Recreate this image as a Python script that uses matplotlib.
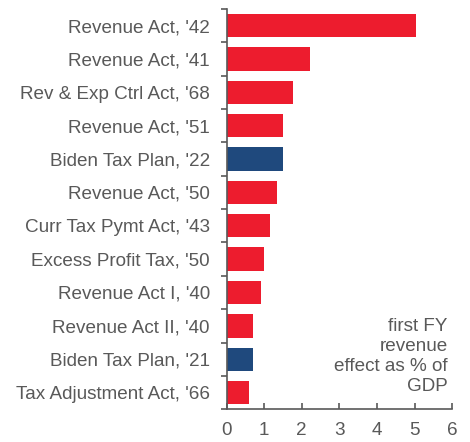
import numpy as np
import matplotlib
matplotlib.use("Agg")
import matplotlib.pyplot as plt

# Tax bills, largest first-year effect at the top
acts = ["Revenue Act, '42", "Revenue Act, '41", "Rev & Exp Ctrl Act, '68",
        "Revenue Act, '51", "Biden Tax Plan, '22", "Revenue Act, '50",
        "Curr Tax Pymt Act, '43", "Excess Profit Tax, '50", "Revenue Act I, '40",
        "Revenue Act II, '40", "Biden Tax Plan, '21", "Tax Adjustment Act, '66"]
pct_gdp = [5.03, 2.22, 1.76, 1.51, 1.51, 1.34, 1.16, 0.99, 0.91, 0.70, 0.71, 0.60]
is_biden = [False, False, False, False, True, False, False, False, False, False, True, False]

red = "#ED1C2E"
blue = "#1F497D"
grey = "#595959"
fs = 13.6

plt.rcParams["font.family"] = ["Liberation Sans", "DejaVu Sans"]

fig = plt.figure(figsize=(4.7, 4.42), dpi=100)
ax = fig.add_axes([0.482, 0.074, 0.48, 0.906])

y = np.arange(len(acts))
colors = [blue if b else red for b in is_biden]
ax.barh(y, pct_gdp, height=0.7, color=colors, zorder=2)

ax.set_ylim(len(acts) - 0.5, -0.5)
ax.set_xlim(0, 6)

ax.set_yticks(y)
ax.set_yticklabels(acts)
ax.set_yticks(np.arange(len(acts) + 1) - 0.5, minor=True)
ax.tick_params(axis="y", which="major", length=0, pad=12, labelsize=fs, labelcolor=grey)
ax.tick_params(axis="y", which="minor", length=4, width=1.2, color=grey, direction="out")

ax.set_xticks(range(7))
ax.tick_params(axis="x", which="major", length=4, width=1.2, color=grey, direction="in",
               pad=9, labelsize=fs, labelcolor=grey)

for side in ["top", "right"]:
    ax.spines[side].set_visible(False)
for side in ["left", "bottom"]:
    ax.spines[side].set_color(grey)
    ax.spines[side].set_linewidth(1.2)

ax.text(0.98, 0.036, "first FY\nrevenue\neffect as % of\nGDP", transform=ax.transAxes,
        ha="right", va="bottom", multialignment="right", fontsize=fs, color=grey,
        linespacing=1.24)

fig.savefig("out.png", dpi=100)
